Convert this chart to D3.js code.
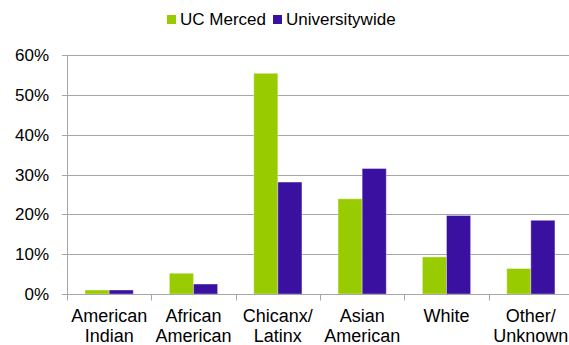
<!DOCTYPE html>
<html>
<head>
<meta charset="utf-8">
<script src="https://cdn.jsdelivr.net/npm/d3@7"></script>
<style>
  html, body { margin: 0; padding: 0; background: #fff; }
  svg { display: block; font-family: "Liberation Sans", Arial, sans-serif; }
</style>
</head>
<body>
<svg id="chart" width="569" height="345"></svg>
<script>
// Enrollment share by race/ethnicity (percent)
const categories = [
  ["American", "Indian"],
  ["African", "American"],
  ["Chicanx/", "Latinx"],
  ["Asian", "American"],
  ["White"],
  ["Other/", "Unknown"]
];
const seriesNames = ["UC Merced", "Universitywide"];
const ucMerced = [1.0, 5.2, 55.4, 23.9, 9.3, 6.4];
const universitywide = [1.0, 2.5, 28.1, 31.5, 19.7, 18.5];
const yTicks = [0, 10, 20, 30, 40, 50, 60];
const colors = ["#99CC00", "#3A10A0"];

const svg = d3.select("#chart");
const margin = { left: 67, right: -4, top: 55, bottom: 51 };
const W = 569, H = 345;
const innerW = W - margin.left - margin.right;
const innerH = H - margin.top - margin.bottom;

const g = svg.append("g").attr("transform", `translate(${margin.left},${margin.top})`);

const x = d3.scaleBand().domain(d3.range(categories.length)).range([0, innerW]).paddingInner(0).paddingOuter(0);
const x1 = d3.scaleBand().domain([0, 1]).range([0, x.bandwidth()]).paddingOuter(0.75).paddingInner(0);
const y = d3.scaleLinear().domain([0, 60]).range([innerH, 0]);

// horizontal gridlines
g.append("g").selectAll("line").data(yTicks.filter(t => t > 0)).join("line")
  .attr("x1", 0).attr("x2", innerW)
  .attr("y1", d => Math.round(y(d)) + 0.5).attr("y2", d => Math.round(y(d)) + 0.5)
  .attr("stroke", "#a6a6a6").attr("stroke-width", 1);

// y axis
const yAxis = d3.axisLeft(y).tickValues(yTicks).tickFormat(d => d + "%").tickSize(5).tickPadding(13);
const ya = g.append("g").call(yAxis);
ya.select(".domain").attr("stroke", "#a6a6a6").attr("d", `M0.5,${innerH}V0`);
ya.selectAll(".tick line").attr("stroke", "#a6a6a6");
ya.selectAll(".tick text").attr("fill", "#000").attr("font-size", 17)
  .attr("font-family", "'Liberation Sans', Arial, sans-serif");
ya.selectAll(".tick").attr("transform", d => `translate(0,${Math.round(y(d)) + 0.5})`);

// bars
const seriesData = [ucMerced, universitywide];
seriesData.forEach((vals, si) => {
  g.append("g").selectAll("rect").data(vals).join("rect")
    .attr("x", (d, i) => x(i) + x1(si))
    .attr("width", x1.bandwidth())
    .attr("y", d => y(d))
    .attr("height", d => y(0) - y(d))
    .attr("fill", colors[si])
    .attr("stroke", "rgba(255,255,255,0.35)")
    .attr("stroke-width", 1);
});

// x axis baseline and category ticks
const base = Math.round(y(0)) + 0.5;
g.append("line").attr("x1", 0).attr("x2", innerW).attr("y1", base).attr("y2", base)
  .attr("stroke", "#a6a6a6");
g.append("g").selectAll("line").data(d3.range(categories.length + 1)).join("line")
  .attr("x1", i => Math.round(i * x.step()) + 0.5).attr("x2", i => Math.round(i * x.step()) + 0.5)
  .attr("y1", base).attr("y2", base + 6)
  .attr("stroke", "#a6a6a6");

// category labels
const labels = g.append("g").selectAll("text").data(categories).join("text")
  .attr("text-anchor", "middle")
  .attr("font-size", 18)
  .attr("fill", "#000")
  .attr("transform", (d, i) => `translate(${x(i) + x.bandwidth() / 2},${innerH + 27.5})`);
labels.selectAll("tspan").data(d => d).join("tspan")
  .attr("x", 0).attr("y", (d, j) => j * 20)
  .text(d => d);

// legend
const legend = svg.append("g").attr("transform", "translate(167,15)");
const items = legend.selectAll("g").data(seriesNames).join("g")
  .attr("transform", (d, i) => `translate(${i === 0 ? 0 : 106},0)`);
items.append("rect").attr("width", 9).attr("height", 9).attr("fill", (d, i) => colors[i]);
items.append("text").attr("x", 13).attr("y", 10).attr("font-size", 17).attr("fill", "#000").text(d => d);
</script>
</body>
</html>
